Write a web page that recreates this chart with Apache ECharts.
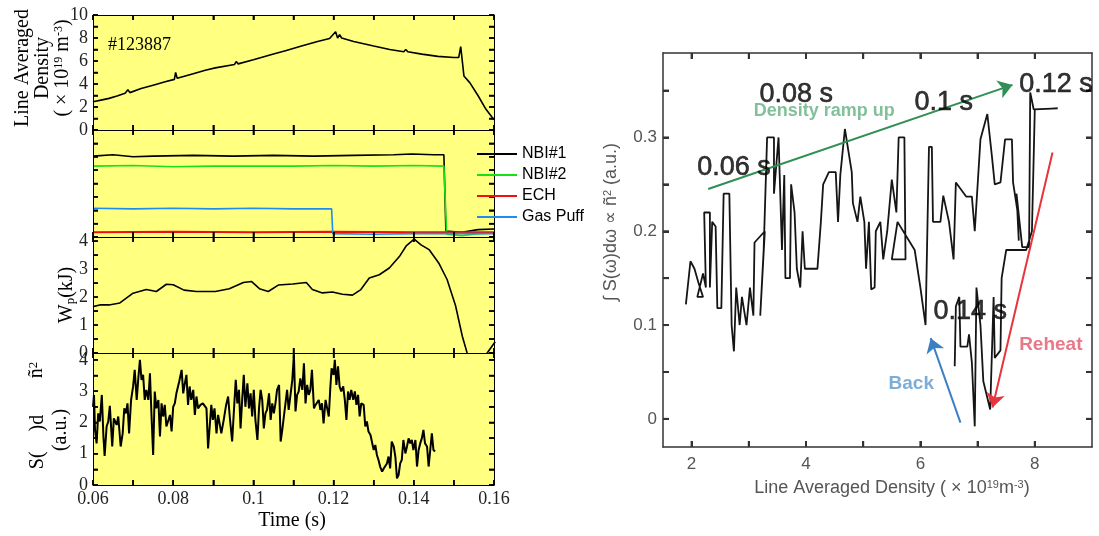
<!DOCTYPE html>
<html>
<head>
<meta charset="utf-8">
<script src="https://cdn.jsdelivr.net/npm/echarts@6/dist/echarts.min.js"></script>
<style>
  html, body { margin: 0; padding: 0; background: #fff; }
  #main { width: 1099px; height: 536px; }
</style>
</head>
<body>
<div id="main"></div>
<script>
// ---------- left figure: time traces ----------
// line averaged density (1e19 m^-3)
var density = [[0.060,2.45],[0.062,2.6],[0.064,2.75],[0.066,2.95],[0.068,3.2],[0.0687,3.5],[0.0692,3.25],
  [0.072,3.6],[0.075,3.9],[0.078,4.2],[0.0803,4.4],[0.0806,5.0],[0.081,4.5],[0.085,4.9],[0.088,5.2],
  [0.0905,5.4],[0.0953,5.7],[0.0957,5.95],[0.0962,5.75],[0.100,6.1],[0.105,6.6],[0.108,6.9],[0.112,7.3],
  [0.116,7.7],[0.119,7.95],[0.1205,8.55],[0.121,8.0],[0.1215,8.3],[0.122,8.0],[0.125,7.7],[0.130,7.3],
  [0.134,7.0],[0.1375,6.8],[0.138,7.0],[0.1385,6.8],[0.142,6.6],[0.146,6.4],[0.150,6.3],[0.1512,6.3],
  [0.1517,7.25],[0.1525,4.7],[0.154,4.1],[0.156,3.0],[0.158,1.8],[0.160,0.9]];

// heating / fuelling waveforms (arb.)
var nbi1 = [[0.06,6.05],[0.065,6.15],[0.07,6.0],[0.075,6.05],[0.085,6.1],[0.095,6.05],[0.105,6.1],
  [0.115,6.05],[0.125,6.1],[0.135,6.15],[0.1395,6.2],[0.145,6.15],[0.1475,6.15],[0.148,0.45],
  [0.152,0.35],[0.156,0.55],[0.16,0.6]];
var nbi2 = [[0.06,5.3],[0.07,5.35],[0.08,5.25],[0.09,5.3],[0.1,5.3],[0.11,5.3],[0.12,5.35],[0.13,5.3],
  [0.14,5.35],[0.1475,5.3],[0.1482,0.2],[0.152,0.1],[0.156,0.25],[0.16,0.3]];
var ech = [[0.06,0.35],[0.08,0.4],[0.1,0.35],[0.12,0.4],[0.14,0.35],[0.16,0.35]];
var gasPuff = [[0.06,2.15],[0.07,2.1],[0.08,2.15],[0.09,2.1],[0.1,2.15],[0.11,2.1],[0.1195,2.1],
  [0.1198,0.25],[0.13,0.2],[0.14,0.25],[0.16,0.25]];

// stored energy Wp (kJ)
var wp = [[0.060,1.66],[0.0617,1.72],[0.064,1.72],[0.0667,1.79],[0.070,2.14],[0.0733,2.27],[0.0758,2.2],
  [0.0783,2.46],[0.080,2.44],[0.0827,2.25],[0.0858,2.2],[0.0905,2.2],[0.094,2.3],[0.0975,2.52],
  [0.0995,2.56],[0.1015,2.3],[0.1037,2.2],[0.1062,2.43],[0.1065,2.47],[0.1098,2.47],[0.1132,2.52],
  [0.1147,2.27],[0.1172,2.15],[0.1197,2.18],[0.1222,2.1],[0.1247,2.07],[0.1268,2.27],[0.1289,2.68],
  [0.1314,2.8],[0.1339,3.04],[0.1364,3.45],[0.1381,3.83],[0.1401,4.07],[0.1418,3.87],[0.1438,3.7],
  [0.1463,3.2],[0.1483,2.63],[0.1504,1.7],[0.1521,0.6],[0.1533,0],[0.1545,-0.5],[0.157,-0.5],
  [0.1583,0],[0.1603,0.4]];

// integrated fluctuation power (a.u.)
var fluct = [[0.0600,2.5],[0.06025,2.88],[0.0605,1.76],[0.0609,1.33],[0.0613,2.29],[0.0617,2.03],
  [0.0622,2.88],[0.0626,1.55],[0.0629,0.93],[0.0634,1.87],[0.0638,2.03],[0.0642,2.53],[0.0648,1.23],
  [0.0652,2.13],[0.0659,1.92],[0.0663,2.19],[0.0669,1.23],[0.0674,1.65],[0.0678,2.45],[0.0682,2.29],
  [0.0686,2.61],[0.0690,1.65],[0.0695,2.72],[0.0700,3.15],[0.0704,3.68],[0.0709,2.72],[0.0713,3.41],
  [0.0717,4.0],[0.0721,3.36],[0.0725,3.52],[0.0729,2.72],[0.0733,3.04],[0.0738,2.72],[0.0742,3.57],
  [0.0746,2.19],[0.0750,0.96],[0.0754,2.99],[0.0758,2.45],[0.0763,2.72],[0.0767,1.55],[0.0771,2.61],
  [0.0775,2.19],[0.0779,2.56],[0.0783,1.87],[0.0792,2.24],[0.0796,1.71],[0.0800,2.5],[0.0804,2.61],
  [0.0808,2.93],[0.0815,3.31],[0.0821,3.68],[0.0825,2.93],[0.0829,3.25],[0.0833,3.52],[0.0837,2.56],
  [0.0841,3.15],[0.0845,2.72],[0.0850,3.04],[0.0854,2.24],[0.0858,2.83],[0.0862,2.45],[0.0868,2.56],
  [0.0874,2.61],[0.0883,2.45],[0.0887,1.17],[0.0891,1.12],[0.0895,2.56],[0.0899,2.08],[0.0903,2.45],
  [0.0908,1.65],[0.0912,2.24],[0.0920,1.65],[0.0926,2.08],[0.0932,2.56],[0.0937,2.83],[0.0941,2.19],
  [0.0947,1.39],[0.0952,2.5],[0.0956,3.36],[0.0960,2.61],[0.0964,3.04],[0.0968,1.81],[0.0972,2.72],
  [0.0976,3.52],[0.0980,2.5],[0.0985,3.25],[0.0989,2.45],[0.0993,2.93],[0.0997,2.19],[0.1001,3.04],
  [0.1005,2.08],[0.1010,1.44],[0.1014,2.45],[0.1018,3.04],[0.1022,2.72],[0.1026,1.81],[0.1030,2.29],
  [0.1034,2.4],[0.1039,2.93],[0.1043,2.08],[0.1047,2.61],[0.1051,2.29],[0.1055,2.61],[0.1059,3.04],
  [0.1064,3.2],[0.1068,1.39],[0.1072,1.76],[0.1076,2.19],[0.1080,2.61],[0.1084,3.04],[0.1088,2.4],
  [0.1093,2.93],[0.1097,3.36],[0.1101,4.16],[0.1105,2.35],[0.1109,2.88],[0.1113,2.99],[0.1117,3.41],
  [0.1122,3.04],[0.1126,3.89],[0.1130,2.61],[0.1134,3.2],[0.1138,2.88],[0.1142,3.04],[0.1146,3.68],
  [0.1151,2.45],[0.1155,2.56],[0.1159,2.5],[0.1163,2.72],[0.1167,2.4],[0.1171,2.61],[0.1175,1.97],
  [0.1180,2.72],[0.1184,2.45],[0.1188,2.19],[0.1192,3.15],[0.1195,3.73],[0.1200,3.52],[0.1203,4.0],
  [0.1207,3.2],[0.1211,3.79],[0.1215,3.15],[0.1219,2.99],[0.1224,3.15],[0.1228,2.72],[0.1232,2.08],
  [0.1236,2.99],[0.1240,2.72],[0.1244,3.04],[0.1249,2.72],[0.1253,2.99],[0.1257,2.56],[0.1261,2.88],
  [0.1265,2.19],[0.1269,2.61],[0.1275,2.56],[0.1279,1.87],[0.1283,2.03],[0.1287,1.71],[0.1292,1.6],
  [0.1296,1.55],[0.1300,1.12],[0.1304,1.28],[0.1308,0.96],[0.1312,0.8],[0.1316,0.59],[0.1321,0.43],
  [0.1325,0.53],[0.1329,0.48],[0.1333,0.69],[0.1337,0.91],[0.1341,0.53],[0.1345,1.39],[0.1350,1.23],
  [0.1354,0.91],[0.1358,0.21],[0.1362,0.32],[0.1366,0.69],[0.1370,0.8],[0.1374,1.44],[0.1379,1.01],
  [0.1383,1.23],[0.1387,1.49],[0.1391,1.33],[0.1395,1.44],[0.1399,1.12],[0.1404,1.44],[0.1408,0.59],
  [0.1412,1.12],[0.1416,1.33],[0.1420,1.49],[0.1424,1.76],[0.1428,1.33],[0.1433,1.23],[0.1437,0.59],
  [0.1441,0.53],[0.1445,1.65],[0.1449,1.12],[0.1453,1.07]];

// ---------- right figure: fluctuation vs density ----------
var trajectory = [[1.90,0.122],[1.98,0.168],[2.05,0.16],[2.12,0.145],[2.2,0.13],[2.1,0.13],[2.2,0.155],
  [2.25,0.14],[2.22,0.22],[2.32,0.22],[2.32,0.14],[2.36,0.21],[2.42,0.205],[2.45,0.118],[2.52,0.118],
  [2.56,0.24],[2.66,0.24],[2.7,0.10],[2.74,0.072],[2.78,0.14],[2.84,0.10],[2.88,0.13],[2.96,0.10],
  [3.02,0.14],[3.08,0.11],[3.1,0.188],[3.28,0.20],[3.2,0.11],[3.26,0.18],[3.32,0.30],[3.44,0.30],
  [3.44,0.24],[3.52,0.30],[3.54,0.26],[3.58,0.18],[3.62,0.26],[3.64,0.15],[3.72,0.15],[3.74,0.25],
  [3.8,0.22],[3.84,0.16],[3.9,0.14],[3.94,0.20],[3.98,0.16],[4.2,0.16],[4.26,0.21],[4.3,0.25],
  [4.4,0.263],[4.52,0.263],[4.56,0.21],[4.6,0.26],[4.68,0.309],[4.8,0.263],[4.82,0.23],[4.9,0.21],
  [4.95,0.237],[5.02,0.21],[5.05,0.16],[5.1,0.21],[5.14,0.138],[5.2,0.14],[5.22,0.20],[5.3,0.21],
  [5.35,0.17],[5.42,0.20],[5.5,0.255],[5.58,0.22],[5.62,0.30],[5.72,0.30],[5.74,0.17],[5.5,0.17],
  [5.6,0.21],[5.9,0.18],[6.0,0.14],[6.09,0.10],[6.15,0.29],[6.2,0.29],[6.22,0.21],[6.35,0.21],
  [6.4,0.238],[6.5,0.21],[6.58,0.17],[6.62,0.252],[6.8,0.237],[6.9,0.237],[6.95,0.20],[7.05,0.298],
  [7.17,0.325],[7.25,0.28],[7.3,0.25],[7.4,0.252],[7.48,0.298],[7.6,0.298],[7.62,0.252],[7.7,0.22],
  [7.72,0.19],[7.68,0.24],[7.78,0.183],[7.9,0.183],[7.92,0.348],[7.98,0.33],[8.4,0.331],[8.0,0.33],
  [7.95,0.20],[7.85,0.18],[7.5,0.18],[7.42,0.15],[7.4,0.073],[7.3,0.065],[7.28,0.13],[7.25,0.07],
  [7.22,0.01],[7.1,0.04],[7.05,0.10],[6.98,0.14],[6.95,-0.008],[6.9,0.06],[6.85,0.09],[6.82,0.077],
  [6.7,0.077],[6.68,0.13],[6.62,0.12],[6.6,0.056]];

var notes = [
  { name: '0.06 s', value: [2.74, 0.268], color: '#000', size: 27, weight: 'normal' },
  { name: '0.08 s', value: [3.83, 0.346], color: '#000', size: 27, weight: 'normal' },
  { name: '0.1 s', value: [6.41, 0.337], color: '#000', size: 27, weight: 'normal' },
  { name: '0.12 s', value: [8.37, 0.356], color: '#000', size: 27, weight: 'normal' },
  { name: '0.14 s', value: [6.87, 0.114], color: '#000', size: 27, weight: 'normal' },
  { name: 'Density ramp up', value: [4.32, 0.328], color: '#62b07f', size: 18, weight: 'bold' },
  { name: 'Reheat', value: [8.28, 0.079], color: '#e2566a', size: 19, weight: 'bold' },
  { name: 'Back', value: [5.84, 0.037], color: '#5b98cf', size: 19, weight: 'bold' }
];
var arrows = [
  { from: [2.29, 0.245], to: [7.61, 0.356], color: '#2f8f55' },
  { from: [8.31, 0.284], to: [7.26, 0.012], color: '#e8343c' },
  { from: [6.70, -0.004], to: [6.18, 0.086], color: '#3a80c2' }
];

var SERIF = 'Liberation Serif';
var SANS = 'Liberation Sans';

function numLabel(keep) {
  return function (v) { return keep(v) ? String(+v.toFixed(2)) : ''; };
}
var evenTime = numLabel(function (v) { return Math.round(v * 100) % 2 === 0; });
var evenInt = numLabel(function (v) { return Math.round(v) % 2 === 0 && Math.abs(v - Math.round(v)) < 1e-6; });
var wholeInt = numLabel(function (v) { return Math.abs(v - Math.round(v)) < 1e-6 && v <= 4; });
var evenN = numLabel(function (v) { return Math.round(v) % 2 === 0; });
var tenthS = numLabel(function (v) { return Math.round(v * 100) % 10 === 0; });

// inward tick marks (axisTick, plus a small box label as a fallback)
function tickAx(dim, gi, pos, min, max, step, len, color, lineW, tickW, showLine) {
  var box = dim === 'x' ? { width: tickW, height: len } : { width: len, height: tickW };
  box.backgroundColor = color;
  box.fontSize = 1;
  box.lineHeight = box.height;
  return {
    type: 'value', gridIndex: gi, position: pos, min: min, max: max, interval: step, z: 20,
    axisLine: { show: showLine, onZero: false, lineStyle: { color: color, width: lineW } },
    axisTick: { show: true, inside: true, length: len, lineStyle: { color: color, width: tickW } },
    axisLabel: { show: true, inside: true, margin: 0, showMinLabel: true, showMaxLabel: true, hideOverlap: false,
      formatter: function () { return '{t| }'; }, rich: { t: box } },
    splitLine: { show: false }
  };
}
// numbers only
function numAx(gi, pos, min, max, step, fmt, font, size, color, margin) {
  return {
    type: 'value', gridIndex: gi, position: pos, min: min, max: max, interval: step, z: 20,
    axisLine: { show: false, onZero: false }, axisTick: { show: false }, splitLine: { show: false },
    axisLabel: { show: true, formatter: fmt, showMinLabel: true, showMaxLabel: true, hideOverlap: false,
      fontFamily: font, fontSize: size, color: color, margin: margin }
  };
}
function hid(gi) {
  return { type: 'value', gridIndex: gi, show: false, min: 0, max: 1 };
}
function frameAx(gi, pos, min, max) {
  return {
    type: 'value', gridIndex: gi, position: pos, min: min, max: max, z: 20,
    axisLine: { show: true, onZero: false, lineStyle: { color: '#333', width: 1.5 } },
    axisTick: { show: false }, axisLabel: { show: false }, splitLine: { show: false }
  };
}

var yellow = '#ffff80';
var px2 = 663 + 0.5 * 57.2;      // pixel of density 2
var py035 = 447 - 0.38 * 938;    // pixel of 0.35
var grids = [
  { left: 93, top: 15, width: 401, height: 115, show: true, z: -5, borderWidth: 0, backgroundColor: yellow },
  { left: 93, top: 130, width: 401, height: 107, show: true, z: -5, borderWidth: 0, backgroundColor: yellow },
  { left: 93, top: 237, width: 401, height: 116, show: true, z: -5, borderWidth: 0, backgroundColor: yellow },
  { left: 93, top: 353, width: 401, height: 132, show: true, z: -5, borderWidth: 0, backgroundColor: yellow },
  { left: 663, top: 53, width: 429, height: 394, show: false },
  { left: px2, top: 53, width: 6 * 57.2, height: 394, show: false },
  { left: 663, top: py035, width: 429, height: 0.35 * 938, show: false }
];

// left panels: y ranges, tick steps and label formatters
var panelY = [
  { min: 0, max: 10, step: 1, fmt: evenInt },
  { min: 0, max: 8, step: 1, fmt: null },
  { min: 0, max: 4.15, step: 0.5, fmt: wholeInt },
  { min: 0, max: 4.22, step: 0.5, fmt: wholeInt }
];
var xAxes = [], yAxes = [], xBase = [], yBase = [];
panelY.forEach(function (p, g) {
  xBase.push(xAxes.length);
  xAxes.push(tickAx('x', g, 'bottom', 0.06, 0.16, 0.01, 5, '#000', 1, 1.5, true));
  xAxes.push(tickAx('x', g, 'top', 0.06, 0.16, 0.01, 5, '#000', 1, 1.5, true));
  if (g === 3) xAxes.push(numAx(g, 'bottom', 0.06, 0.16, 0.01, evenTime, SERIF, 18, '#222', 5));
  yBase.push(yAxes.length);
  yAxes.push(tickAx('y', g, 'left', p.min, p.max, p.step, 5, '#000', 1, 1.5, true));
  yAxes.push(tickAx('y', g, 'right', p.min, p.max, p.step, 5, '#000', 1, 1.5, true));
  if (p.fmt) yAxes.push(numAx(g, 'left', p.min, p.max, p.step, p.fmt, SERIF, 18, '#222', 5));
});
// right figure
var xR = xAxes.length, yR = yAxes.length;
xAxes.push(frameAx(4, 'bottom', 1.5, 9), frameAx(4, 'top', 1.5, 9));
yAxes.push(frameAx(4, 'left', -0.03, 0.39), frameAx(4, 'right', -0.03, 0.39));
xAxes.push(tickAx('x', 5, 'bottom', 2, 8, 1, 6, '#333', 1, 2, false),
           tickAx('x', 5, 'top', 2, 8, 1, 6, '#333', 1, 2, false),
           numAx(5, 'bottom', 2, 8, 1, evenN, SANS, 17, '#555', 9));
yAxes.push(hid(5));
yAxes.push(tickAx('y', 6, 'left', 0, 0.35, 0.05, 6, '#333', 1, 2, false),
           tickAx('y', 6, 'right', 0, 0.35, 0.05, 6, '#333', 1, 2, false),
           numAx(6, 'left', 0, 0.35, 0.05, tenthS, SANS, 17, '#555', 6));
xAxes.push(hid(6));

function lineSeries(name, data, g, color, width) {
  return {
    name: name, type: 'line', data: data, xAxisIndex: xBase[g], yAxisIndex: yBase[g],
    showSymbol: false, symbol: 'none', animation: false, clip: true,
    lineStyle: { color: color, width: width }, itemStyle: { color: color }
  };
}
function arrowSeries(a) {
  return {
    name: 'arrow', type: 'line', data: [], xAxisIndex: xR, yAxisIndex: yR, z: 24,
    itemStyle: { color: a.color }, lineStyle: { color: a.color },
    markLine: {
      silent: true, animation: false,
      symbol: ['none', 'arrow'], symbolSize: 14,
      label: { show: false },
      itemStyle: { color: a.color },
      lineStyle: { color: a.color, width: 2, type: 'solid' },
      data: [[{ coord: a.from }, { coord: a.to }]]
    }
  };
}

var chart = echarts.init(document.getElementById('main'));
chart.setOption({
  animation: false,
  textStyle: { fontFamily: SANS },
  grid: grids,
  xAxis: xAxes,
  yAxis: yAxes,
  legend: {
    data: ['NBI#1', 'NBI#2', 'ECH', 'Gas Puff'],
    orient: 'vertical', left: 472, top: 141, z: 30,
    icon: 'rect', itemWidth: 40, itemHeight: 2, itemGap: 5,
    selectedMode: false,
    textStyle: { fontFamily: SANS, fontSize: 16, color: '#000', lineHeight: 16 }
  },
  series: [
    lineSeries('density', density, 0, '#000', 1.6),
    lineSeries('NBI#1', nbi1, 1, '#000', 1.6),
    lineSeries('NBI#2', nbi2, 1, '#18e018', 1.6),
    lineSeries('ECH', ech, 1, '#f01010', 2),
    lineSeries('Gas Puff', gasPuff, 1, '#1e8cf0', 1.6),
    lineSeries('Wp', wp, 2, '#000', 1.6),
    lineSeries('fluct', fluct, 3, '#000', 2),
    {
      name: 'trajectory', type: 'line', data: trajectory, xAxisIndex: xR, yAxisIndex: yR,
      showSymbol: false, symbol: 'none', clip: true,
      lineStyle: { color: '#151515', width: 1.8 }, itemStyle: { color: '#151515' }
    },
    arrowSeries(arrows[0]), arrowSeries(arrows[1]), arrowSeries(arrows[2]),
    {
      name: 'notes', type: 'scatter', xAxisIndex: xR, yAxisIndex: yR, silent: true, z: 25,
      symbolSize: 0, itemStyle: { color: '#000' },
      data: notes.map(function (n) {
        return {
          name: n.name, value: n.value,
          label: { show: true, position: 'inside', formatter: '{b}', color: n.color,
            textBorderColor: n.color, textBorderWidth: n.weight === 'normal' ? 0.6 : 0,
            fontSize: n.size, fontWeight: n.weight, fontFamily: SANS }
        };
      })
    }
  ],
  graphic: [
    { type: 'text', x: 108, y: 45, style: { text: '#123887', fontFamily: SERIF, fontSize: 18, fill: '#000', verticalAlign: 'middle' } },
    { type: 'text', x: 43, y: 68, rotation: Math.PI / 2,
      style: { text: 'Line Averaged\nDensity\n( \u00d7 10{sup|19} m{sup|-3})', fontFamily: SERIF, fontSize: 20, lineHeight: 20,
        fill: '#000', align: 'center', verticalAlign: 'middle',
        rich: { sup: { fontFamily: SERIF, fontSize: 12, verticalAlign: 'top', lineHeight: 20 } } } },
    { type: 'text', x: 67, y: 295, rotation: Math.PI / 2,
      style: { text: 'W{sub|p}(kJ)', fontFamily: SERIF, fontSize: 20, fill: '#000', align: 'center', verticalAlign: 'middle',
        rich: { sub: { fontFamily: SERIF, fontSize: 13, verticalAlign: 'bottom' } } } },
    { type: 'text', x: 38, y: 442, rotation: Math.PI / 2,
      style: { text: 'S(    )d', fontFamily: SERIF, fontSize: 20, fill: '#000', align: 'center', verticalAlign: 'middle' } },
    { type: 'text', x: 37, y: 370, rotation: Math.PI / 2,
      style: { text: '\u00f1{sup|2}', fontFamily: SERIF, fontSize: 20, fill: '#000', align: 'center', verticalAlign: 'middle',
        rich: { sup: { fontFamily: SERIF, fontSize: 13, verticalAlign: 'top' } } } },
    { type: 'text', x: 61, y: 430, rotation: Math.PI / 2,
      style: { text: '(a.u.)', fontFamily: SERIF, fontSize: 20, fill: '#000', align: 'center', verticalAlign: 'middle' } },
    { type: 'text', x: 292, y: 521,
      style: { text: 'Time (s)', fontFamily: SERIF, fontSize: 20, fill: '#000', align: 'center', verticalAlign: 'middle' } },
    { type: 'text', x: 611, y: 222, rotation: Math.PI / 2,
      style: { text: '\u222b S(\u03c9)d\u03c9 \u221d \u00f1{sup|2} (a.u.)', fontFamily: SANS, fontSize: 18, fill: '#555',
        align: 'center', verticalAlign: 'middle',
        rich: { sup: { fontFamily: SANS, fontSize: 11, verticalAlign: 'top' } } } },
    { type: 'text', x: 892, y: 488,
      style: { text: 'Line Averaged Density ( \u00d7 10{sup|19}m{sup|-3})', fontFamily: SANS, fontSize: 18, fill: '#555',
        align: 'center', verticalAlign: 'middle',
        rich: { sup: { fontFamily: SANS, fontSize: 11, verticalAlign: 'top' } } } }
  ]
});
</script>
</body>
</html>
